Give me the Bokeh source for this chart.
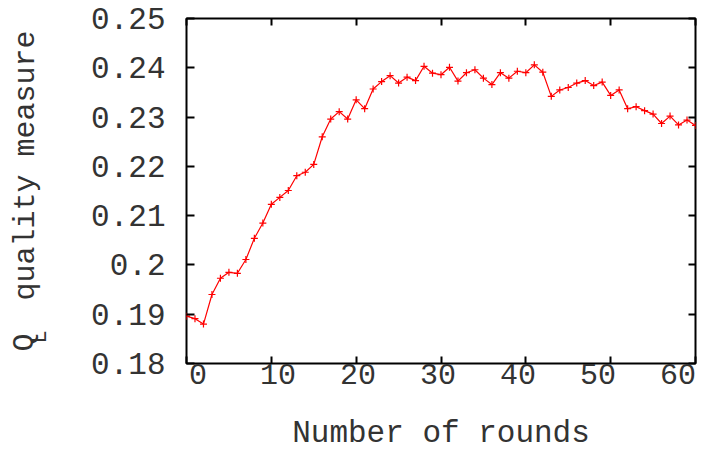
import math
from bokeh.plotting import figure
from bokeh.layouts import row
from bokeh.models import LinearAxis, Range1d, FixedTicker, Label
from bokeh.embed import file_html
from bokeh.resources import INLINE

# ---- data -------------------------------------------------------------
rounds = list(range(0, 61))
ql_quality = [
    0.1896, 0.1891, 0.1880, 0.1940, 0.1973, 0.1985, 0.1983, 0.2011, 0.2054, 0.2085,
    0.2123, 0.2137, 0.2151, 0.2181, 0.2188, 0.2204, 0.2260, 0.2296, 0.2311, 0.2296,
    0.2335, 0.2317, 0.2357, 0.2372, 0.2384, 0.2369, 0.2381, 0.2374, 0.2403, 0.2389,
    0.2386, 0.2401, 0.2373, 0.2390, 0.2396, 0.2379, 0.2366, 0.2390, 0.2379, 0.2393,
    0.2390, 0.2406, 0.2391, 0.2342, 0.2355, 0.2360, 0.2369, 0.2374, 0.2364, 0.2371,
    0.2344, 0.2355, 0.2317, 0.2321, 0.2313, 0.2306, 0.2287, 0.2302, 0.2284, 0.2294,
    0.2283,
]
x_ticks = [0, 10, 20, 30, 40, 50, 60]
y_ticks = [0.18, 0.19, 0.20, 0.21, 0.22, 0.23, 0.24, 0.25]
y_tick_labels = ["0.18", "0.19", "0.2", "0.21", "0.22", "0.23", "0.24", "0.25"]
x_title = "Number of rounds"
y_title_q = "Q"
y_title_sub = "L"
y_title_rest = "quality measure"

FONT = "Liberation Mono"
TXT = "#333333"
RED = "#ff0000"
H = 453
LEFT_W = 60

# ---- narrow panel holding the rotated y title -------------------------
lp = figure(width=LEFT_W, height=H, x_range=Range1d(0, 1), y_range=Range1d(0, 1),
            output_backend="svg", toolbar_location=None,
            x_axis_location=None, y_axis_location=None, min_border=0)
lp.xgrid.visible = False
lp.ygrid.visible = False
lp.outline_line_color = None
for txt, xs, ys, size in [(y_title_q, 24, 12, "30px"),
                          (y_title_sub, 40, 20, "22px"),
                          (y_title_rest, 25, 63, "30px")]:
    lp.add_layout(Label(x=xs, y=ys, x_units="screen", y_units="screen", text=txt,
                        angle=math.pi / 2, text_font=FONT, text_font_size=size,
                        text_color=TXT, text_align="left",
                        text_baseline="alphabetic"))

# ---- main plot ----------------------------------------------------------
p = figure(width=660, height=H,
           x_range=Range1d(0, 60), y_range=Range1d(0.18, 0.25),
           output_backend="svg", toolbar_location=None,
           x_axis_location=None, y_axis_location=None,
           min_border_left=126, min_border_right=25,
           min_border_top=18, min_border_bottom=90)
p.xgrid.visible = False
p.ygrid.visible = False
p.outline_line_color = "black"
p.outline_line_width = 2
p.background_fill_color = "white"
p.border_fill_color = "white"

# range used only to place the x tick labels like the reference
p.extra_x_ranges = {"xlab": Range1d(-1.4375, 62.19)}


def tick_only_axis(ticks, **kw):
    return LinearAxis(ticker=FixedTicker(ticks=ticks),
                      major_tick_in=7, major_tick_out=0,
                      major_tick_line_color="black", major_tick_line_width=2,
                      minor_tick_line_color=None, axis_line_color=None,
                      major_label_text_font_size="1px", major_label_text_color=None,
                      major_label_standoff=0, **kw)


p.add_layout(tick_only_axis(x_ticks), "below")
p.add_layout(tick_only_axis(x_ticks), "above")
p.add_layout(tick_only_axis(y_ticks), "right")

xlab = LinearAxis(x_range_name="xlab", ticker=FixedTicker(ticks=x_ticks),
                  major_tick_in=0, major_tick_out=0, major_tick_line_color=None,
                  minor_tick_line_color=None, axis_line_color=None,
                  major_label_standoff=0,
                  major_label_text_font=FONT, major_label_text_font_size="30px",
                  major_label_text_color=TXT,
                  axis_label=x_title, axis_label_standoff=29,
                  axis_label_text_font=FONT, axis_label_text_font_size="31px",
                  axis_label_text_font_style="normal", axis_label_text_color=TXT)
p.add_layout(xlab, "below")

yax = LinearAxis(ticker=FixedTicker(ticks=y_ticks),
                 major_tick_in=8, major_tick_out=0,
                 major_tick_line_color="black", major_tick_line_width=2,
                 minor_tick_line_color=None, axis_line_color=None,
                 major_label_standoff=21,
                 major_label_text_font=FONT, major_label_text_font_size="31px",
                 major_label_text_color=TXT,
                 major_label_overrides=dict(zip(y_ticks, y_tick_labels)))
p.add_layout(yax, "left")

p.line(rounds, ql_quality, line_color=RED, line_width=1.2)
p.scatter(rounds, ql_quality, marker="cross", size=7, line_color=RED, line_width=1.2)

layout = row(lp, p, spacing=0)
open("out.html", "w").write(file_html(layout, INLINE))
